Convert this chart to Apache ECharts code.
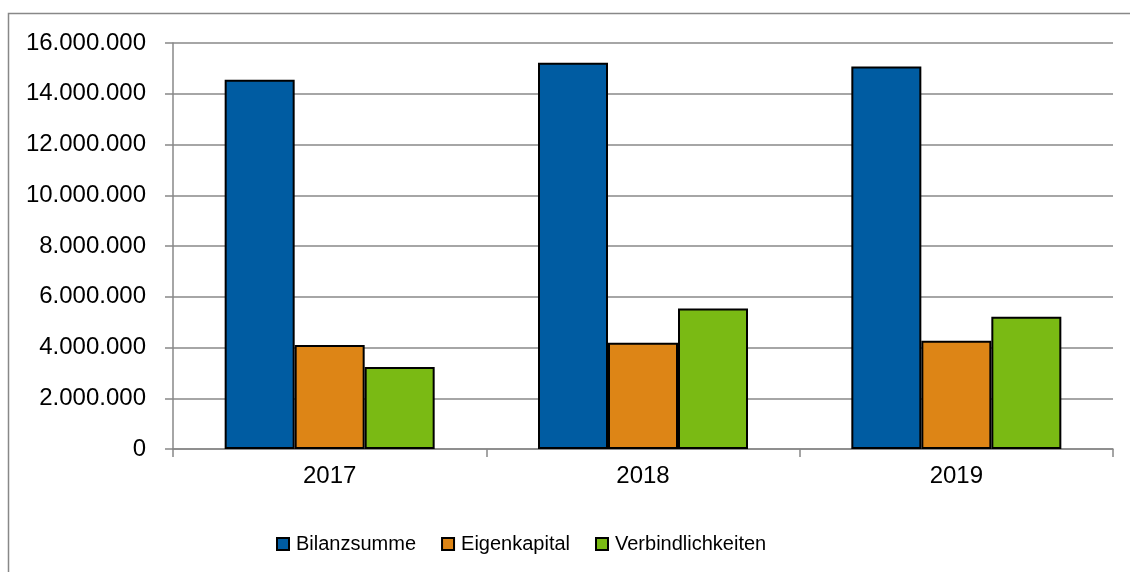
<!DOCTYPE html>
<html>
<head>
<meta charset="utf-8">
<title>Bilanz</title>
<script src="https://cdn.jsdelivr.net/npm/echarts@6/dist/echarts.min.js"></script>
<style>
  html, body { margin: 0; padding: 0; background: #fff; }
  #chart { width: 1130px; height: 572px; }
</style>
</head>
<body>
<div id="chart"></div>
<script>
// Daten
const years = ["2017", "2018", "2019"];
const bilanzsumme = [14550000, 15220000, 15070000];
const eigenkapital = [4100000, 4190000, 4270000];
const verbindlichkeiten = [3230000, 5540000, 5210000];
const yTicks = [0, 2000000, 4000000, 6000000, 8000000, 10000000, 12000000, 14000000, 16000000];

(function () {
  let myChart = echarts.init(document.getElementById("chart"));
  const gray = "#888888";
  const font = "Liberation Sans";

  // Tausenderpunkte
  function fmt(v) {
    return String(v).replace(/\B(?=(\d{3})+(?!\d))/g, ".");
  }

  function bar(name, data, color) {
    return {
      name: name,
      type: "bar",
      data: data,
      barWidth: 70,
      barGap: "0%",
      itemStyle: {
        color: color,
        borderColor: "#000",
        borderWidth: 2,
      },
    };
  }

  let option = {
    animation: false,
    graphic: [
      {
        type: "rect",
        shape: { x: 8.5, y: 13.5, width: 1140, height: 600 },
        style: { fill: "none", stroke: gray, lineWidth: 1.5 },
        silent: true,
      },
    ],
    grid: {
      left: 173,
      right: 17,
      top: 43,
      bottom: 123,
    },
    legend: {
      left: 271,
      top: 529,
      itemWidth: 12,
      itemHeight: 12,
      itemGap: 25,
      icon: "rect",
      textStyle: {
        fontFamily: font,
        fontSize: 20,
        color: "#000",
        padding: [0, 0, 0, 2],
      },
      data: ["Bilanzsumme", "Eigenkapital", "Verbindlichkeiten"],
    },
    xAxis: {
      type: "category",
      data: years,
      axisLine: { lineStyle: { color: gray, width: 1.5 } },
      axisTick: { show: true, length: 8, interval: 0, lineStyle: { color: gray, width: 1.5 } },
      axisLabel: {
        fontFamily: font,
        fontSize: 24,
        color: "#000",
        margin: 15,
      },
    },
    yAxis: {
      type: "value",
      min: yTicks[0],
      max: yTicks[yTicks.length - 1],
      interval: yTicks[1] - yTicks[0],
      axisLine: { show: true, lineStyle: { color: gray, width: 1.5 } },
      axisTick: { show: true, length: 8, lineStyle: { color: gray, width: 1.5 } },
      splitLine: { lineStyle: { color: gray, width: 1.5 } },
      axisLabel: {
        fontFamily: font,
        fontSize: 24,
        color: "#000",
        margin: 27,
        formatter: fmt,
      },
    },
    series: [
      bar("Bilanzsumme", bilanzsumme, "#005ca2"),
      bar("Eigenkapital", eigenkapital, "#dd8516"),
      bar("Verbindlichkeiten", verbindlichkeiten, "#7aba14"),
    ],
  };

  myChart.setOption(option);
  window.addEventListener("resize", function () {
    myChart.resize();
  });
})();
</script>
</body>
</html>
